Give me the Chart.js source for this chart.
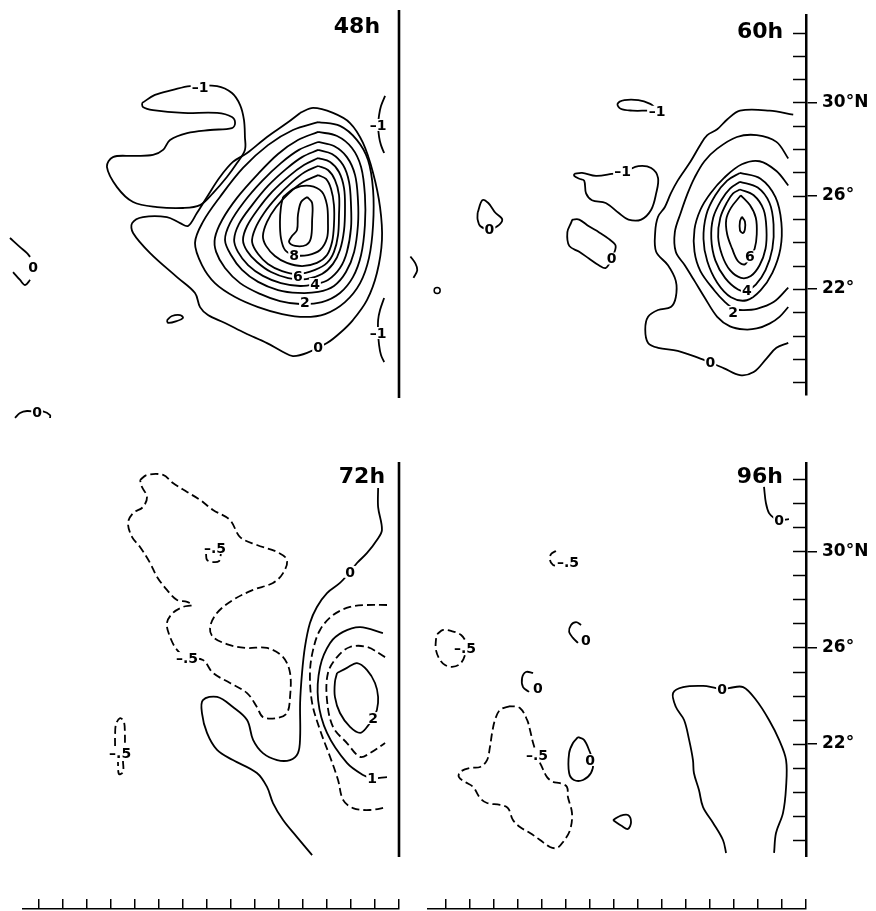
<!DOCTYPE html>
<html>
<head>
<meta charset="utf-8">
<script src="https://cdn.jsdelivr.net/npm/chart.js@4/dist/chart.umd.min.js"></script>
<style>
  body { margin: 0; background: #fff; }
  #fig { position: relative; width: 876px; height: 911px; overflow: hidden; background: #fff; }
  #fig canvas { position: absolute; }
</style>
</head>
<body>
<div id="fig">
  <canvas id="c48" width="402" height="425" style="left:0;top:5px"></canvas>
  <canvas id="c60" width="476" height="390" style="left:400px;top:10px"></canvas>
  <canvas id="c72" width="402" height="395" style="left:0;top:462px"></canvas>
  <canvas id="c96" width="476" height="395" style="left:400px;top:462px"></canvas>
  <canvas id="tl" width="380" height="12" style="left:22px;top:899px"></canvas>
  <canvas id="tr" width="382" height="12" style="left:427px;top:899px"></canvas>
</div>
<script>
// latitude axis (right side of the 60h / 96h panels)
const latTickValues = [30, 26, 22];
const latTickText = ['30°N', '26°', '22°'];

// ---- 48h contours (lon, lat) ----
const h48_m1 = [[129.29,29.85],[129.83,30.19],[130.58,30.40],[131.29,30.56],[132.42,30.56],[133.04,30.27],[133.38,29.77],[133.54,29.15],[133.58,28.44],[133.58,27.90],[133.25,27.35],[132.83,26.77],[132.25,26.10],[131.71,25.60],[131.0,25.48],[129.92,25.52],[128.92,25.73],[128.25,26.35],[127.83,27.19],[128.08,27.60],[128.92,27.65],[129.75,27.69],[130.17,27.90],[130.46,28.31],[131.17,28.60],[132.13,28.73],[133.04,28.81],[133.17,29.02],[133.04,29.27],[132.42,29.44],[131.0,29.44],[129.75,29.56],[129.33,29.69],[129.29,29.85]];
const h48_c0 = [[135.88,29.44],[136.42,29.65],[137.25,29.44],[137.96,29.02],[138.50,28.19],[138.92,26.94],[139.21,25.52],[139.29,24.15],[139.08,22.77],[138.67,21.65],[138.08,20.81],[137.54,20.27],[137.0,19.85],[136.17,19.44],[135.58,19.31],[135.17,19.48],[134.50,19.85],[133.58,20.27],[132.75,20.69],[132.04,21.02],[131.71,21.35],[131.50,21.94],[130.75,22.60],[129.63,23.60],[128.92,24.44],[128.88,24.85],[129.33,25.10],[130.33,25.10],[130.88,24.85],[131.21,24.73],[131.58,25.27],[132.0,25.94],[132.54,26.77],[133.08,27.40],[133.67,27.77],[134.50,28.44],[135.33,29.02],[135.88,29.44]];
const h48_c1 = [[136.63,29.06],[137.54,28.90],[138.25,28.31],[138.71,27.48],[138.92,26.23],[138.92,24.77],[138.75,23.40],[138.38,22.35],[137.75,21.56],[136.92,21.06],[136.08,20.94],[135.13,21.06],[134.13,21.35],[133.17,21.77],[132.33,22.35],[131.79,23.10],[131.50,24.02],[131.83,24.90],[132.54,25.94],[133.50,27.15],[134.54,28.10],[135.58,28.73],[136.63,29.06]];
const h48_c2 = [[136.63,28.65],[137.42,28.48],[138.04,27.98],[138.42,27.19],[138.58,26.02],[138.58,24.77],[138.42,23.52],[138.08,22.60],[137.54,21.94],[136.79,21.56],[135.88,21.48],[135.04,21.60],[134.21,21.90],[133.38,22.35],[132.75,22.98],[132.38,23.65],[132.33,24.23],[132.63,24.98],[133.25,25.90],[134.08,26.85],[134.96,27.73],[135.79,28.31],[136.63,28.65]];
const h48_c3 = [[136.63,28.23],[137.29,28.06],[137.83,27.60],[138.17,26.85],[138.29,25.81],[138.29,24.77],[138.13,23.65],[137.79,22.81],[137.29,22.23],[136.63,21.98],[135.79,21.94],[134.96,22.06],[134.13,22.40],[133.46,22.90],[133.0,23.52],[132.75,24.15],[132.96,24.85],[133.54,25.73],[134.29,26.60],[135.08,27.35],[135.83,27.90],[136.63,28.23]];
const h48_c4 = [[136.63,27.90],[137.21,27.73],[137.67,27.27],[137.92,26.56],[138.0,25.60],[138.0,24.65],[137.83,23.65],[137.54,22.98],[137.04,22.48],[136.5,22.31],[135.88,22.23],[135.08,22.35],[134.33,22.65],[133.71,23.10],[133.29,23.65],[133.13,24.15],[133.33,24.81],[133.88,25.60],[134.54,26.40],[135.29,27.10],[135.96,27.60],[136.63,27.90]];
const h48_c5 = [[136.63,27.56],[137.13,27.40],[137.5,26.98],[137.71,26.31],[137.75,25.48],[137.71,24.56],[137.54,23.73],[137.25,23.15],[136.79,22.73],[136.13,22.52],[135.38,22.56],[134.67,22.81],[134.08,23.23],[133.67,23.69],[133.5,24.15],[133.67,24.73],[134.13,25.44],[134.71,26.15],[135.42,26.81],[136.04,27.27],[136.63,27.56]];
const h48_c6 = [[136.63,27.23],[137.04,27.06],[137.33,26.65],[137.5,26.02],[137.5,25.19],[137.46,24.35],[137.29,23.65],[137.0,23.19],[136.5,22.90],[135.79,22.73],[135.13,22.85],[134.54,23.15],[134.13,23.56],[133.88,24.06],[134.0,24.60],[134.38,25.27],[134.92,25.94],[135.54,26.56],[136.08,26.98],[136.63,27.23]];
const h48_c7 = [[136.63,26.85],[136.96,26.69],[137.17,26.27],[137.29,25.60],[137.29,24.77],[137.21,24.06],[137.0,23.52],[136.58,23.19],[135.96,23.06],[135.33,23.19],[134.83,23.48],[134.46,23.90],[134.33,24.31],[134.5,24.90],[134.88,25.52],[135.42,26.10],[136.0,26.56],[136.63,26.85]];
const h48_c8 = [[135.17,25.94],[135.67,26.31],[136.29,26.40],[136.79,26.15],[137.0,25.60],[137.04,24.90],[137.0,24.23],[136.71,23.73],[136.21,23.52],[135.63,23.52],[135.25,23.73],[135.08,24.23],[135.04,24.90],[135.08,25.52],[135.17,25.94]];
const h48_c9 = [[136.17,25.94],[136.38,25.69],[136.38,24.98],[136.33,24.23],[136.13,23.94],[135.67,23.90],[135.42,24.06],[135.54,24.31],[135.75,24.56],[135.79,25.19],[135.92,25.73],[136.17,25.94]];
const h48_arcN = [[139.42,30.15],[139.25,29.73],[139.17,29.35],[139.13,28.94],[139.17,28.44],[139.25,28.10],[139.38,27.77]];
const h48_arcS = [[139.38,21.73],[139.21,21.23],[139.13,20.81],[139.13,20.27],[139.17,19.77],[139.25,19.35],[139.38,19.06]];
const h48_oval = [[130.33,20.81],[130.54,20.98],[130.88,21.02],[131.0,20.90],[130.75,20.77],[130.38,20.69],[130.33,20.81]];
const h48_w0a = [[123.79,24.23],[124.21,23.85],[124.5,23.60],[124.63,23.44]];
const h48_w0b = [[123.92,22.81],[124.21,22.48],[124.42,22.27],[124.63,22.48]];
const h48_s0 = [[124.0,16.73],[124.21,16.94],[124.5,17.02],[124.92,16.98],[125.17,17.0],[125.46,16.85],[125.46,16.73]];
const h48_frame = [[140,33.73],[140,17.56]];
const h48_labels = [['–1',131.71,30.52],['–1',139.13,28.94],['–1',139.13,20.27],['0',136.63,19.69],['2',136.08,21.56],['4',136.5,22.31],['6',135.79,22.65],['8',135.63,23.52],['0',124.75,23.02],['0',124.92,16.98]];

// ---- 60h contours ----
const h60_c0 = [[139.46,29.48],[138.46,29.65],[137.21,29.65],[136.67,29.27],[136.25,28.85],[135.83,28.60],[135.54,28.19],[135.13,27.48],[134.58,26.65],[134.29,26.10],[134.04,25.52],[133.75,25.10],[133.63,24.44],[133.67,23.60],[134.17,23.02],[134.50,22.35],[134.50,21.65],[134.29,21.23],[133.75,21.10],[133.33,20.81],[133.21,20.27],[133.33,19.69],[133.75,19.48],[134.58,19.35],[135.54,19.02],[135.96,18.85],[136.54,18.60],[137.21,18.31],[137.79,18.44],[138.33,19.02],[138.75,19.48],[139.25,19.69]];
const h60_c1 = [[139.25,27.60],[138.75,28.31],[137.92,28.60],[137.08,28.52],[136.25,28.02],[135.71,27.48],[135.29,26.77],[135.0,26.10],[134.71,25.27],[134.46,24.44],[134.50,23.60],[134.88,23.02],[135.29,22.35],[135.71,21.65],[136.25,20.81],[136.79,20.40],[137.38,20.27],[137.92,20.31],[138.46,20.52],[138.88,20.81],[139.25,21.23]];
const h60_c2 = [[139.25,26.44],[138.75,27.06],[138.04,27.48],[137.29,27.35],[136.54,26.77],[135.96,26.10],[135.54,25.40],[135.29,24.56],[135.29,23.60],[135.54,22.77],[136.13,21.94],[136.58,21.44],[136.96,21.15],[137.38,21.10],[137.92,21.15],[138.63,21.44],[139.25,22.06]];
const h60_c3 = [[137.21,26.98],[138.08,26.73],[138.71,25.94],[138.96,24.85],[138.92,23.73],[138.58,22.69],[138.08,21.94],[137.5,21.52],[136.83,21.65],[136.25,22.27],[135.83,23.19],[135.67,24.15],[135.79,25.19],[136.17,26.02],[136.67,26.65],[137.21,26.98]];
const h60_c4 = [[137.21,26.60],[137.96,26.35],[138.46,25.69],[138.63,24.77],[138.58,23.73],[138.29,22.81],[137.88,22.19],[137.5,21.94],[137.13,21.98],[136.58,22.48],[136.17,23.23],[136.0,24.15],[136.08,25.06],[136.42,25.81],[136.79,26.31],[137.21,26.60]];
const h60_c5 = [[137.21,26.27],[137.79,26.02],[138.21,25.40],[138.33,24.56],[138.29,23.73],[138.04,23.02],[137.67,22.56],[137.25,22.48],[136.79,22.81],[136.46,23.44],[136.29,24.23],[136.38,25.06],[136.67,25.73],[136.92,26.10],[137.21,26.27]];
const h60_c6 = [[137.25,26.02],[137.63,25.60],[137.88,25.06],[137.92,24.35],[137.83,23.73],[137.63,23.40],[137.42,23.06],[137.13,23.19],[136.88,23.73],[136.67,24.35],[136.63,24.98],[136.83,25.48],[137.25,26.02]];
const h60_c7 = [[137.29,25.10],[137.42,24.90],[137.42,24.56],[137.33,24.40],[137.21,24.52],[137.21,24.90],[137.29,25.10]];
const h60_m1a = [[133.29,29.65],[132.67,29.65],[132.17,29.73],[132.04,29.94],[132.33,30.10],[132.92,30.10],[133.42,29.94],[133.63,29.77]];
const h60_m1b = [[130.21,26.94],[130.54,26.98],[131.13,26.85],[131.79,26.94],[132.38,27.06],[132.92,27.27],[133.46,27.19],[133.75,26.77],[133.67,26.10],[133.46,25.40],[133.04,24.98],[132.50,24.98],[132.08,25.27],[131.54,25.69],[130.96,25.81],[130.71,26.10],[130.63,26.65],[130.42,26.73],[130.21,26.85],[130.21,26.94]];
const h60_z0a = [[130.13,24.98],[130.42,24.98],[130.83,24.69],[131.25,24.44],[131.67,24.15],[131.96,23.85],[131.79,23.31],[131.54,22.90],[131.25,23.02],[130.83,23.31],[130.42,23.60],[130.0,23.85],[129.92,24.44],[130.08,24.85],[130.13,24.98]];
const h60_z0b = [[126.13,25.27],[126.33,25.81],[126.58,25.69],[126.88,25.27],[127.17,24.98],[126.96,24.69],[126.63,24.56],[126.25,24.69],[126.13,24.98],[126.13,25.27]];
const h60_edge = [[123.29,23.40],[123.5,23.10],[123.58,22.81],[123.42,22.48]];
const h60_dot = [[124.42,21.94]];
const h60_labels = [['–1',133.71,29.60],['–1',132.25,27.06],['0',126.63,24.56],['0',131.79,23.31],['6',137.63,23.40],['4',137.5,21.94],['2',136.92,21.02],['0',135.96,18.85]];

// ---- 72h contours ----
const h72_zero = [[139.13,32.65],[139.13,31.85],[139.29,30.90],[139.08,30.48],[138.67,29.94],[138.25,29.52],[137.96,29.15],[137.54,28.69],[137.0,28.27],[136.58,27.69],[136.29,27.02],[136.08,26.02],[135.96,24.94],[135.88,23.69],[135.88,22.27],[135.79,21.60],[135.46,21.31],[134.92,21.31],[134.33,21.60],[133.92,22.15],[133.67,22.98],[133.08,23.52],[132.42,23.94],[131.83,23.81],[131.79,23.27],[132.0,22.44],[132.42,21.73],[133.08,21.31],[134.08,20.77],[134.50,20.19],[134.75,19.52],[135.17,18.81],[135.75,18.10],[136.38,17.35]];
const h72_m5 = [[129.21,32.98],[129.5,33.19],[130.17,33.19],[130.58,32.85],[131.17,32.48],[131.71,32.15],[132.25,31.73],[132.96,31.31],[133.38,30.60],[134.08,30.27],[134.92,29.98],[135.33,29.65],[135.17,29.10],[134.75,28.69],[133.92,28.40],[133.08,27.98],[132.42,27.44],[132.13,26.85],[132.25,26.44],[132.96,26.10],[133.67,25.98],[134.50,25.98],[135.17,25.60],[135.46,24.94],[135.46,23.94],[135.33,23.27],[134.92,23.06],[134.33,23.10],[134.08,23.52],[133.67,24.10],[132.96,24.52],[132.25,24.94],[131.83,25.48],[131.17,25.56],[130.75,25.90],[130.46,26.44],[130.33,27.02],[130.58,27.44],[131.0,27.69],[131.38,27.77],[131.17,27.90],[130.75,27.98],[130.33,28.40],[129.92,28.94],[129.63,29.52],[129.21,30.19],[128.88,30.60],[128.71,31.19],[128.92,31.60],[129.33,31.85],[129.5,32.27],[129.29,32.69],[129.21,32.98]];
const h72_m5b = [[131.96,29.90],[132.0,29.65],[132.25,29.56],[132.5,29.60],[132.58,29.90]];
const h72_m5c = [[128.17,21.90],[128.17,22.35],[128.21,22.81],[128.38,23.06],[128.54,22.90],[128.58,22.35],[128.58,21.90]];
const h72_m5d = [[128.50,21.27],[128.50,20.81],[128.33,20.73],[128.29,21.23]];
const h72_d05 = [[139.5,27.77],[138.67,27.77],[137.96,27.69],[137.25,27.35],[136.71,26.73],[136.42,25.90],[136.29,24.94],[136.38,23.69],[136.71,22.56],[137.13,21.44],[137.46,20.48],[137.67,19.65],[138.08,19.31],[138.79,19.23],[139.5,19.35]];
const h72_c1 = [[139.33,26.60],[138.38,26.85],[137.67,26.65],[137.13,26.19],[136.71,25.19],[136.63,23.81],[137.0,22.44],[137.83,21.19],[138.5,20.69],[138.88,20.56],[139.5,20.60]];
const h72_d15 = [[139.42,25.60],[138.67,26.02],[137.96,26.02],[137.42,25.60],[137.04,24.94],[137.0,23.81],[137.25,22.69],[137.83,22.02],[138.38,21.44],[138.79,21.60],[139.42,22.02]];
const h72_c2 = [[137.42,24.94],[137.83,25.15],[138.25,25.35],[138.67,25.06],[139.0,24.52],[139.13,23.94],[139.08,23.40],[138.92,23.06],[138.67,22.69],[138.38,22.44],[137.96,22.69],[137.54,23.27],[137.33,23.94],[137.33,24.56],[137.42,24.94]];
const h72_frame = [[140,33.73],[140,17.27]];
const h72_labels = [['0',137.96,29.15],['–.5',132.33,30.15],['–.5',131.17,25.56],['–.5',128.38,21.60],['2',138.92,23.06],['1',138.88,20.56]];

// ---- 96h contours ----
const h96_top0 = [[138.25,32.69],[138.33,32.02],[138.46,31.60],[138.67,31.40],[138.88,31.31],[139.29,31.35]];
const h96_m5a = [[129.58,30.02],[129.38,29.90],[129.33,29.65],[129.46,29.44],[129.71,29.40]];
const h96_m5b = [[124.63,26.56],[124.88,26.73],[125.21,26.69],[125.63,26.52],[125.83,26.19],[125.79,25.69],[125.58,25.31],[125.25,25.19],[124.96,25.27],[124.75,25.48],[124.58,25.90],[124.58,26.31],[124.63,26.56]];
const h96_z0a = [[130.63,26.94],[130.42,27.06],[130.21,26.94],[130.13,26.65],[130.29,26.40],[130.50,26.19]];
const h96_z0b = [[128.63,24.94],[128.33,24.98],[128.17,24.73],[128.21,24.35],[128.46,24.15]];
const h96_z0c = [[130.50,22.27],[130.75,22.15],[130.96,21.73],[131.13,21.19],[131.04,20.77],[130.71,20.48],[130.33,20.48],[130.13,20.77],[130.13,21.60],[130.29,22.02],[130.50,22.27]];
const h96_tear = [[131.96,18.81],[132.25,18.98],[132.58,19.02],[132.71,18.73],[132.58,18.44],[132.33,18.56],[131.96,18.81]];
const h96_m5 = [[127.67,23.56],[127.25,23.40],[127.04,22.98],[126.92,22.44],[126.83,21.85],[126.71,21.31],[126.42,21.02],[126.0,20.98],[125.58,20.81],[125.54,20.60],[125.79,20.40],[126.13,20.19],[126.42,19.73],[126.71,19.52],[127.25,19.44],[127.58,19.31],[127.79,18.81],[128.08,18.52],[128.5,18.27],[128.92,17.98],[129.33,17.69],[129.63,17.65],[129.88,17.90],[130.17,18.40],[130.25,19.10],[130.08,19.77],[130.04,20.19],[129.75,20.35],[129.46,20.40],[129.21,20.60],[129.0,21.02],[128.83,21.40],[128.63,22.02],[128.5,22.56],[128.38,22.98],[128.08,23.48],[127.67,23.56]];
const h96_zero = [[136.67,17.44],[136.54,17.98],[136.13,18.69],[135.71,19.35],[135.54,20.06],[135.33,20.77],[135.29,21.31],[135.13,22.15],[134.92,22.98],[134.58,23.52],[134.46,24.10],[134.88,24.35],[135.71,24.40],[136.25,24.31],[136.5,24.27],[136.79,24.31],[137.38,24.35],[137.92,23.81],[138.46,22.98],[138.88,22.15],[139.17,21.31],[139.17,20.19],[139.04,19.10],[138.75,18.27],[138.67,17.44]];
const h96_labels = [['0',138.88,31.31],['–.5',130.08,29.56],['–.5',125.79,25.98],['0',130.83,26.31],['0',128.83,24.31],['0',131.0,21.31],['–.5',128.79,21.52],['0',136.5,24.27]];

const FONT = 'DejaVu Sans';

function line(pts, dashed, width) {
  return {
    data: pts.map(p => ({ x: p[0], y: p[1] })),
    showLine: true,
    pointRadius: 0,
    borderColor: '#000',
    borderWidth: width || 1.8,
    borderDash: dashed ? [8, 4] : [],
    tension: width ? 0 : 0.35,
    fill: false,
    clip: width ? false : undefined,
  };
}

// contour values + panel title, drawn at their lon/lat through the scales
const labelPlugin = {
  id: 'clabels',
  afterDatasetsDraw(chart, args, opts) {
    const { ctx } = chart;
    const x = chart.scales.x, y = chart.scales.y;
    ctx.save();
    ctx.font = 'bold 14px "' + FONT + '"';
    ctx.textAlign = 'center';
    ctx.textBaseline = 'middle';
    (opts.items || []).forEach(([text, lon, lat]) => {
      const px = x.getPixelForValue(lon), py = y.getPixelForValue(lat);
      const w = ctx.measureText(text).width + 2;
      ctx.fillStyle = '#fff';
      ctx.fillRect(px - w / 2, py - 6, w, 12);
      ctx.fillStyle = '#000';
      ctx.fillText(text, px, py + 1);
    });
    if (opts.title) {
      const [text, lon, lat] = opts.title;
      ctx.font = 'bold 22px "' + FONT + '"';
      ctx.textAlign = 'right';
      ctx.textBaseline = 'alphabetic';
      ctx.fillStyle = '#000';
      ctx.fillText(text, x.getPixelForValue(lon), y.getPixelForValue(lat));
    }
    ctx.restore();
  }
};

// short ticks pointing into the panel from the latitude axis
const inTicks = {
  id: 'inticks',
  afterDraw(chart) {
    const s = chart.scales.y;
    if (!s.options.display) return;
    const ctx = chart.ctx, r = chart.chartArea.right;
    ctx.save();
    ctx.strokeStyle = '#000';
    ctx.lineWidth = 1.5;
    s.ticks.forEach(t => {
      const py = Math.round(s.getPixelForValue(t.value)) + 0.5;
      ctx.beginPath();
      ctx.moveTo(r - 13, py);
      ctx.lineTo(r, py);
      ctx.stroke();
    });
    ctx.restore();
  }
};

function panel(id, o) {
  const yAxis = o.axis ? {
    type: 'linear', position: 'right', min: o.latMin, max: o.latMax,
    afterFit(s) { s.width = 70; s.paddingTop = 0; s.paddingBottom = 0; },
    border: { display: true, color: '#000', width: 2.5 },
    grid: {
      drawOnChartArea: false, drawTicks: true, tickLength: 11, lineWidth: 1.5,
      color: c => (c.tick && latTickValues.includes(c.tick.value)) ? '#000' : 'rgba(0,0,0,0)'
    },
    ticks: {
      stepSize: 1, autoSkip: false, includeBounds: false, padding: 5, color: '#000',
      font: { family: FONT, weight: 'bold', size: 17 },
      callback: v => { const i = latTickValues.indexOf(v); return i < 0 ? '' : latTickText[i]; }
    }
  } : { type: 'linear', display: false, min: o.latMin, max: o.latMax };

  return new Chart(document.getElementById(id), {
    type: 'scatter',
    data: { datasets: o.datasets },
    options: {
      responsive: false,
      animation: false,
      events: [],
      layout: { padding: { right: o.padRight || 0 } },
      plugins: {
        legend: { display: false },
        tooltip: { enabled: false },
        clabels: { items: o.labels, title: o.title }
      },
      scales: {
        x: { type: 'linear', display: false, min: o.lonMin, max: 140 },
        y: yAxis
      }
    },
    plugins: o.axis ? [labelPlugin, inTicks] : [labelPlugin]
  });
}

panel('c48', {
  lonMin: 123.375, latMin: 16.229, latMax: 33.938, padRight: 3,
  title: ['48h', 139.21, 32.77], labels: h48_labels,
  datasets: [
    line(h48_frame, false, 2.6),
    line(h48_m1), line(h48_c0), line(h48_c1), line(h48_c2), line(h48_c3), line(h48_c4),
    line(h48_c5), line(h48_c6), line(h48_c7), line(h48_c8), line(h48_c9),
    line(h48_arcN), line(h48_arcS), line(h48_oval), line(h48_w0a), line(h48_w0b), line(h48_s0)
  ]
});

panel('c60', {
  lonMin: 123.083, latMin: 17.479, latMax: 33.729, axis: true,
  title: ['60h', 139.04, 32.77], labels: h60_labels,
  datasets: [
    line(h60_c0), line(h60_c1), line(h60_c2), line(h60_c3), line(h60_c4), line(h60_c5),
    line(h60_c6), line(h60_c7), line(h60_m1a), line(h60_m1b), line(h60_z0a), line(h60_z0b),
    line(h60_edge),
    { data: h60_dot.map(p => ({ x: p[0], y: p[1] })), pointRadius: 3, pointBorderWidth: 1.5,
      pointBorderColor: '#000', pointBackgroundColor: '#fff', showLine: false }
  ]
});

panel('c72', {
  lonMin: 123.375, latMin: 17.271, latMax: 33.729, padRight: 3,
  title: ['72h', 139.42, 32.85], labels: h72_labels,
  datasets: [
    line(h72_frame, false, 2.6),
    line(h72_zero), line(h72_m5, true), line(h72_m5b, true), line(h72_m5c, true), line(h72_m5d, true),
    line(h72_d05, true), line(h72_c1), line(h72_d15, true), line(h72_c2)
  ]
});

panel('c96', {
  lonMin: 123.083, latMin: 17.271, latMax: 33.729, axis: true,
  title: ['96h', 139.04, 32.85], labels: h96_labels,
  datasets: [
    line(h96_top0), line(h96_m5a, true), line(h96_m5b, true), line(h96_z0a), line(h96_z0b),
    line(h96_z0c), line(h96_tear), line(h96_m5, true), line(h96_zero)
  ]
});

// longitude tick rows under the bottom panels
function tickRow(id, lonMin) {
  return new Chart(document.getElementById(id), {
    type: 'scatter',
    data: { datasets: [] },
    options: {
      responsive: false,
      animation: false,
      events: [],
      layout: { padding: { right: 3 } },
      plugins: { legend: { display: false }, tooltip: { enabled: false } },
      scales: {
        x: {
          type: 'linear', position: 'top', min: lonMin, max: 140,
          afterFit(s) { s.height = 10; s.paddingLeft = 0; s.paddingRight = 0; },
          border: { display: true, color: '#000', width: 1.5 },
          grid: { drawOnChartArea: false, tickLength: 10, lineWidth: 1.5, color: '#000' },
          ticks: { display: false, stepSize: 1, includeBounds: false }
        },
        y: { display: false, min: 0, max: 1 }
      }
    }
  });
}
tickRow('tl', 124.292);
tickRow('tr', 124.208);
</script>
</body>
</html>
